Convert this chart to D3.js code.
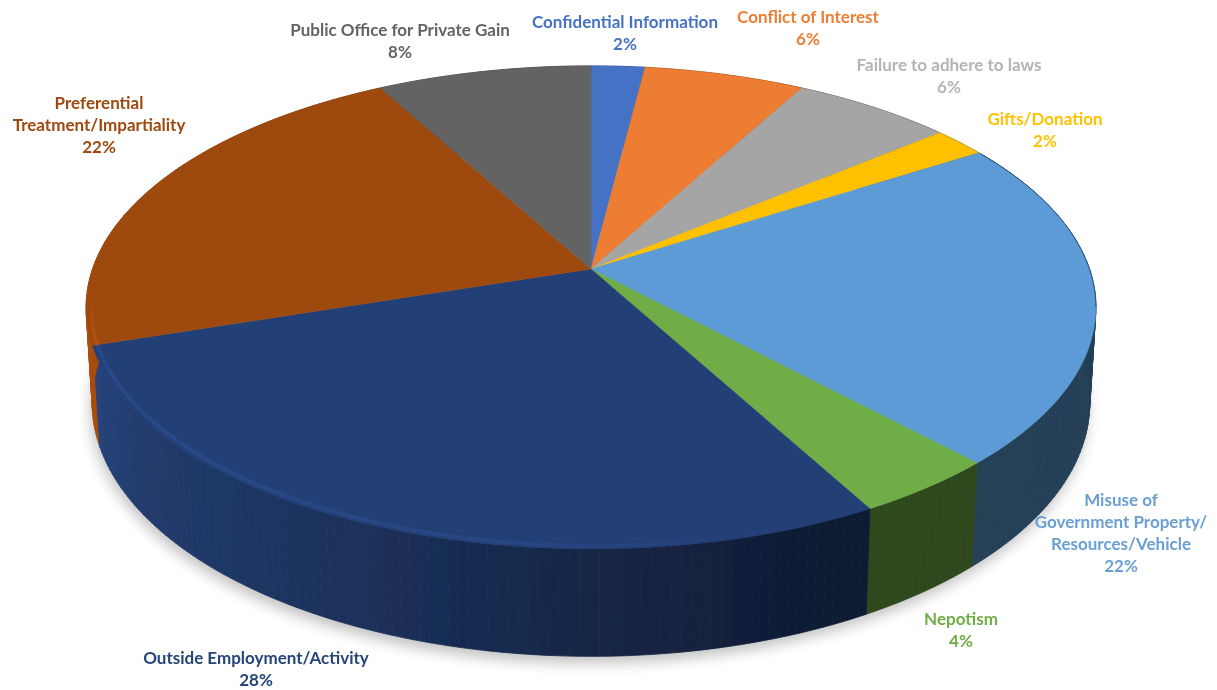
<!DOCTYPE html>
<html>
<head>
<meta charset="utf-8">
<title>Violations by category</title>
<script src="https://cdn.jsdelivr.net/npm/d3@7"></script>
<style>
    html, body { margin: 0; padding: 0; background: #fff; }
    text { font-family: Lato, "Open Sans", sans-serif; font-weight: 700; font-size: 17px; text-anchor: middle; }
</style>
</head>
<body>
<div id="chart"></div>
<script>
const categories = [
    "Confidential Information", "Conflict of Interest", "Failure to adhere to laws",
    "Gifts/Donation", "Misuse of Government Property/Resources/Vehicle", "Nepotism",
    "Outside Employment/Activity", "Preferential Treatment/Impartiality", "Public Office for Private Gain"
];
const percents = [2, 6, 6, 2, 22, 4, 28, 22, 8];
const sliceColors = ["#4472c4", "#ed7d31", "#a5a5a5", "#ffc000", "#5b9bd5", "#70ad47", "#233f75", "#9e480e", "#636363"];
const textColors = ["#4472c4", "#ed7d31", "#b4b4b4", "#ffc000", "#6a9fd3", "#70ad47", "#264478", "#9e480e", "#636363"];
const labelLines = [
    ["Confidential Information"], ["Conflict of Interest"], ["Failure to adhere to laws"],
    ["Gifts/Donation"], ["Misuse of", "Government Property/", "Resources/Vehicle"], ["Nepotism"],
    ["Outside Employment/Activity"], ["Preferential", "Treatment/Impartiality"], ["Public Office for Private Gain"]
];

// Label centres, first line
const labelX = [625, 808, 949, 1045, 1121, 961, 256, 99, 400];
const labelY = [23, 18, 66, 120, 501, 620, 659, 104, 31];

const width = 1217, height = 690;

// Perspective of the tilted disc, measured from the rim of the picture
const apexX = 591, apexY = 268, scaleU = 498.5, scaleV = 235.4, tilt = 0.159;
const depthShift = 95, depthScale = 0.012;

function project(angle, r = 1, bottom = false) {
    const u = r * Math.sin(angle), v = -r * Math.cos(angle);
    const w = 1 - tilt * v + (bottom ? depthScale : 0);
    return [apexX + scaleU * u / w, apexY + 1 + (scaleV * v + (bottom ? depthShift : 0)) / w];
}

const svg = d3.select("#chart").append("svg")
    .attr("width", width)
    .attr("height", height)
    .style("display", "block");

const defs = svg.append("defs");
defs.append("filter").attr("id", "shadow")
    .attr("x", "-10%").attr("y", "-10%").attr("width", "120%").attr("height", "120%")
    .append("feGaussianBlur").attr("stdDeviation", 7);
defs.append("filter").attr("id", "soft")
    .append("feGaussianBlur").attr("stdDeviation", 0.6);
defs.append("filter").attr("id", "softBevel")
    .attr("filterUnits", "userSpaceOnUse")
    .attr("x", 0).attr("y", 0).attr("width", width).attr("height", height)
    .append("feGaussianBlur").attr("stdDeviation", 1);
defs.append("filter").attr("id", "softText")
    .append("feGaussianBlur").attr("stdDeviation", 0.35);

const arcs = d3.pie().sort(null).value(d => d)(percents);
const line = d3.line();
const angleStep = Math.PI / 180;

function anglesOf(d) {
    const n = Math.max(2, Math.ceil((d.endAngle - d.startAngle) / angleStep));
    return d3.range(n + 1).map(i => d.startAngle + (d.endAngle - d.startAngle) * i / n);
}

const strips = [];
arcs.forEach((d, i) => {
    d3.pairs(anglesOf(d)).forEach(([a0, a1]) => strips.push({ a0, a1, i }));
});

// Soft shadow under the pie
svg.append("path")
    .attr("d", line(d3.range(0, 361, 2).map(a => project(a * angleStep, 1, true))) + "Z")
    .attr("transform", "translate(-2,7)")
    .attr("fill", "#000")
    .attr("opacity", 0.24)
    .attr("filter", "url(#shadow)");

const pie = svg.append("g").attr("filter", "url(#soft)");

// Side wall: brightness follows the position across the pie, one gradient per slice
const shadeStops = [[-1, 1.08], [-0.9, 0.93], [0, 0.6], [0.5, 0.42], [1, 0.4]];

function shaded(color, k) {
    const c = d3.rgb(color);
    return d3.rgb(Math.min(255, c.r * k), Math.min(255, c.g * k), Math.min(255, c.b * k)).formatHex();
}

sliceColors.forEach((color, i) => {
    defs.append("linearGradient")
        .attr("id", "side" + i)
        .attr("gradientUnits", "userSpaceOnUse")
        .attr("x1", apexX - 506).attr("x2", apexX + 506)
        .attr("y1", 0).attr("y2", 0)
        .selectAll("stop")
        .data(shadeStops)
        .join("stop")
        .attr("offset", s => (s[0] + 1) / 2)
        .attr("stop-color", s => shaded(color, s[1]));
});

pie.append("g").selectAll("path")
    .data(strips)
    .join("path")
    .attr("d", s => line([project(s.a0), project(s.a1), project(s.a1, 1, true), project(s.a0, 1, true)]) + "Z")
    .attr("fill", s => `url(#side${s.i})`)
    .attr("stroke", s => `url(#side${s.i})`)
    .attr("stroke-width", 0.8);

// Top faces
pie.append("g").selectAll("path")
    .data(arcs)
    .join("path")
    .attr("d", d => line([[apexX, apexY + 1], ...anglesOf(d).map(a => project(a))]) + "Z")
    .attr("fill", (d, i) => sliceColors[i])
    .attr("stroke", (d, i) => sliceColors[i])
    .attr("stroke-width", 0.4);

// Bevel: light band along the front rim, dark line on the upper right
const bevel = d3.scaleLinear().domain([-1, -0.95, -0.2, 0.45, 1]).range([0, 0.32, 0.24, 0, 0]);
pie.append("g")
    .attr("filter", "url(#softBevel)")
    .selectAll("path")
    .data(strips.filter(s => Math.cos((s.a0 + s.a1) / 2) < 0.15))
    .join("path")
    .attr("d", s => line([project(s.a0, 0.99), project(s.a1, 0.99)]))
    .attr("fill", "none")
    .attr("stroke", s => d3.rgb(sliceColors[s.i]).brighter(1.5).formatHex())
    .attr("stroke-width", 3)
    .attr("opacity", s => bevel(Math.sin((s.a0 + s.a1) / 2)));

pie.append("path")
    .attr("d", line(d3.range(58, 100).map(a => project(a * angleStep))))
    .attr("fill", "none")
    .attr("stroke", "#2c5378")
    .attr("stroke-width", 1);

// Data labels
const labels = svg.append("g").attr("filter", "url(#softText)")
    .selectAll("text")
    .data(categories)
    .join("text")
    .attr("fill", (d, i) => textColors[i])
    .attr("transform", (d, i) => `translate(${labelX[i]},${labelY[i] + 5})`);

labels.each(function (d, i) {
    const rows = [...labelLines[i], percents[i] + "%"];
    d3.select(this).selectAll("tspan")
        .data(rows)
        .join("tspan")
        .attr("x", 0)
        .attr("dy", (r, k) => k ? 22 : 0)
        .text(r => r);
});
</script>
</body>
</html>
